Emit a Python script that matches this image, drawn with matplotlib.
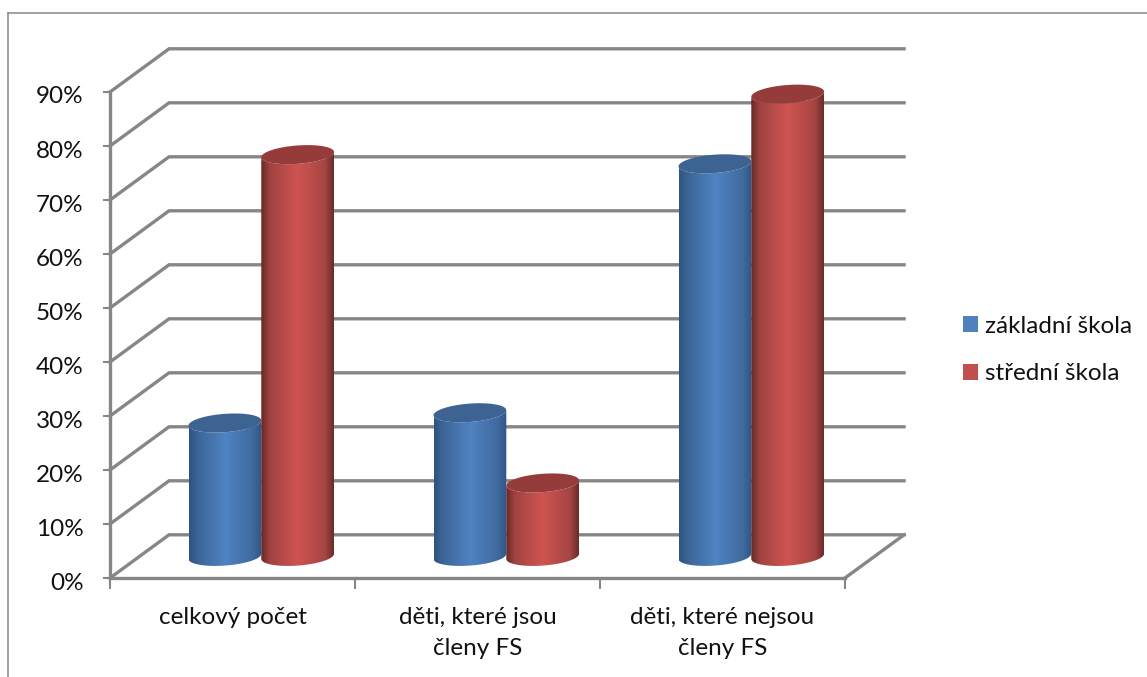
import numpy as np
import matplotlib
matplotlib.use("Agg")
import matplotlib.pyplot as plt
from matplotlib.colors import LinearSegmentedColormap
from matplotlib.lines import Line2D
from matplotlib.patches import Patch, Polygon
from matplotlib.transforms import ScaledTranslation

categories = ["celkový počet", "děti, které jsou\nčleny FS", "děti, které nejsou\nčleny FS"]
zakladni = [24.7, 26.6, 72.7]
stredni = [74.4, 13.6, 85.6]
series_names = ["základní škola", "střední škola"]
yticks = [0, 10, 20, 30, 40, 50, 60, 70, 80, 90]

W, H = 1147, 677
GRAY = "#868686"
DEPTH_X = 0.241   # offset of the back wall, category units
DEPTH_Y = 8.0     # same, percent units
BAR_W = 0.297
RADIUS_Y = 1.7
SHEAR = 3.2       # tilt of the ellipses, percent per category unit

plt.rcParams["font.family"] = ["Lato", "DejaVu Sans"]

fig = plt.figure(figsize=(W / 100, H / 100), dpi=100)
ax = fig.add_axes([110 / W, 1 - 578 / H, 735 / W, 486 / H])

# outer frame, only top and left show up in the crop
fig.add_artist(Line2D([8 / W, 8 / W], [0, 1 - 13 / H], color=GRAY, lw=1.1))
fig.add_artist(Line2D([8 / W, 1], [1 - 13 / H, 1 - 13 / H], color=GRAY, lw=1.1))

# walls
for v in yticks:
    ax.plot([0, DEPTH_X, 3 + DEPTH_X], [v, v + DEPTH_Y, v + DEPTH_Y],
            color=GRAY, lw=2.4, clip_on=False, zorder=1, solid_joinstyle="miter")
ax.plot([3, 3 + DEPTH_X], [0, DEPTH_Y], color=GRAY, lw=2.4, clip_on=False, zorder=1)


def ellipse(cx, cy, t):
    a = BAR_W / 2
    return cx + a * np.cos(t), cy + RADIUS_Y * np.sin(t) + SHEAR * a * np.cos(t)


def cylinder(cx, value, stops, top_color, z):
    floor = DEPTH_Y / 2
    t_low = np.linspace(np.pi, 2 * np.pi, 60)
    t_all = np.linspace(0, 2 * np.pi, 120)
    xb, yb = ellipse(cx, floor, t_low)
    xt, yt = ellipse(cx, value + floor, t_low)
    body = np.vstack([np.column_stack([xb, yb]), np.column_stack([xt, yt])[::-1]])
    clip = Polygon(body, closed=True, transform=ax.transData, fc="none", ec="none")
    ax.add_patch(clip)
    cmap = LinearSegmentedColormap.from_list("cyl", stops)
    img = ax.imshow(np.linspace(0, 1, 256).reshape(1, -1), cmap=cmap, aspect="auto",
                    extent=[cx - BAR_W / 2, cx + BAR_W / 2, floor - 4, value + floor + 4],
                    zorder=z, interpolation="bilinear")
    img.set_clip_path(clip)
    xe, ye = ellipse(cx, value + floor, t_all)
    ax.add_patch(Polygon(np.column_stack([xe, ye]), closed=True, fc=top_color, ec="none",
                         zorder=z + 0.1, clip_on=False))


blue_stops = [(0, "#2d5380"), (0.12, "#3c6597"), (0.5, "#5083c2"), (0.88, "#3f6a9e"), (1, "#2f5584")]
red_stops = [(0, "#652826"), (0.12, "#a04341"), (0.5, "#cf5451"), (0.88, "#a54543"), (1, "#6b2b29")]

centers = np.arange(len(categories)) + 0.5 + DEPTH_X / 2 - 0.003
for i, c in enumerate(centers):
    cylinder(c - BAR_W / 2, zakladni[i], blue_stops, "#3c6392", 3)
    cylinder(c + BAR_W / 2, stredni[i], red_stops, "#953b39", 4)

ax.set_xlim(0, 3)
ax.set_ylim(0, 90)
ax.set_yticks(yticks)
ax.set_yticklabels([f"{v}%" for v in yticks])
ax.set_xticks([0.5, 1.5, 2.5])
ax.set_xticklabels(categories, linespacing=1.6)
ax.set_xticks([0, 1, 2, 3], minor=True)
ax.tick_params(axis="y", labelsize=17.5, length=5, width=1.5, color=GRAY, pad=14, labelcolor="#111111")
ax.tick_params(axis="x", which="major", labelsize=17.5, length=0, pad=21, labelcolor="#111111")
ax.tick_params(axis="x", which="minor", length=8, width=1.5, color=GRAY)
# labels sit a little below the tick in the original
for label in ax.get_yticklabels():
    label.set_transform(label.get_transform() + ScaledTranslation(0, -3 / 100, fig.dpi_scale_trans))
for s in ["top", "right"]:
    ax.spines[s].set_visible(False)
for s in ["left", "bottom"]:
    ax.spines[s].set_color(GRAY)
    ax.spines[s].set_linewidth(2.4)
    ax.spines[s].set_zorder(2)

handles = [Patch(fc="#4f81bd", label=series_names[0]), Patch(fc="#c0504d", label=series_names[1])]
fig.legend(handles=handles, loc="center left", bbox_to_anchor=(963 / W, 1 - 350 / H), frameon=False,
           fontsize=17.5, handlelength=0.62, handleheight=0.62, handletextpad=0.29,
           labelspacing=1.1, borderpad=0, borderaxespad=0, labelcolor="#111111")

fig.savefig("out.png", dpi=100, facecolor="white")
